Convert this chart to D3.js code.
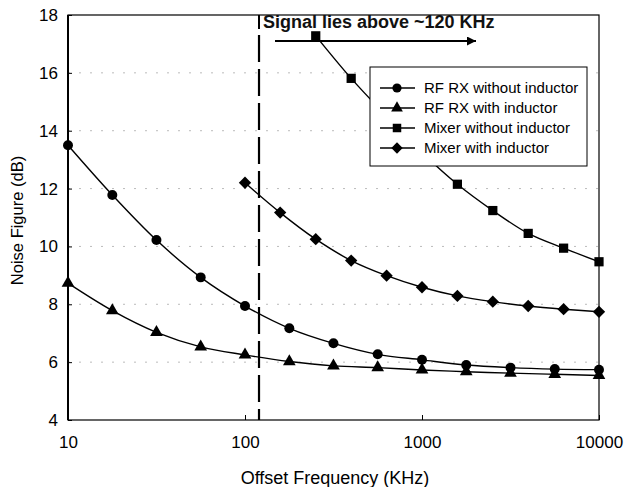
<!DOCTYPE html>
<html>
<head>
<meta charset="utf-8">
<script src="https://cdn.jsdelivr.net/npm/d3@7"></script>
<style>
  body { margin: 0; background: #fff; }
  svg { font-family: "Liberation Sans", Arial, sans-serif; }
</style>
</head>
<body>
<svg width="625" height="487"></svg>
<script>
// data
const rfFreq = [10, 17.8, 31.6, 56.2, 100, 178, 316, 562, 1000, 1778, 3162, 5623, 10000];
const rfNoInd = [13.5, 11.78, 10.22, 8.93, 7.94, 7.17, 6.65, 6.27, 6.08, 5.9, 5.81, 5.76, 5.74];
const rfInd = [8.73, 7.78, 7.03, 6.53, 6.25, 6.02, 5.87, 5.81, 5.73, 5.67, 5.62, 5.58, 5.54];
const mixNoIndFreq = [251, 398, 631, 1000, 1585, 2512, 3981, 6310, 10000];
const mixNoInd = [17.28, 15.81, 14.5, 13.25, 12.15, 11.24, 10.45, 9.94, 9.47];
const mixIndFreq = [100, 158, 251, 398, 631, 1000, 1585, 2512, 3981, 6310, 10000];
const mixInd = [12.2, 11.17, 10.25, 9.51, 8.99, 8.59, 8.29, 8.09, 7.94, 7.83, 7.74];
const xTicks = [10, 100, 1000, 10000];
const yTicks = [4, 6, 8, 10, 12, 14, 16, 18];
const signalEdge = 120;

// diamond drawn as a square turned 45 degrees
const squareDiamond = {
  draw(ctx, size) {
    const h = Math.sqrt(size) / Math.SQRT2;
    ctx.moveTo(0, -h); ctx.lineTo(h, 0); ctx.lineTo(0, h); ctx.lineTo(-h, 0); ctx.closePath();
  }
};

const series = [
  {name: "RF RX without inductor", x: rfFreq, y: rfNoInd, sym: d3.symbolCircle, size: 78},
  {name: "RF RX with inductor", x: rfFreq, y: rfInd, sym: d3.symbolTriangle, size: 70},
  {name: "Mixer without inductor", x: mixNoIndFreq, y: mixNoInd, sym: d3.symbolSquare, size: 85},
  {name: "Mixer with inductor", x: mixIndFreq, y: mixInd, sym: squareDiamond, size: 76}
];

const svg = d3.select("svg");
const margin = {left: 68, right: 26, top: 15, bottom: 67};
const width = 625 - margin.left - margin.right;
const height = 487 - margin.top - margin.bottom;

const x = d3.scaleLog().domain([10, 10000]).range([0, width]);
const y = d3.scaleLinear().domain([4, 18]).range([height, 0]);

const g = svg.append("g").attr("transform", `translate(${margin.left},${margin.top})`);

// faint dotted grid
g.append("g").selectAll("line")
  .data(yTicks.slice(1, -1)).enter().append("line")
  .attr("x1", 0).attr("x2", width)
  .attr("y1", d => y(d)).attr("y2", d => y(d))
  .attr("stroke", "#bbb").attr("stroke-width", 1)
  .attr("stroke-dasharray", "2,9");

// frame
g.append("rect").attr("width", width).attr("height", height)
  .attr("fill", "none").attr("stroke", "#000").attr("stroke-width", 1.2);
g.append("line").attr("x1", 0).attr("x2", 0).attr("y1", 0).attr("y2", height)
  .attr("stroke", "#000").attr("stroke-width", 2);

// axes
const xAxis = g.append("g").attr("transform", `translate(0,${height})`)
  .call(d3.axisBottom(x).tickValues(xTicks).tickFormat(d3.format("d")).tickSize(-5).tickPadding(14));
const yAxis = g.append("g")
  .call(d3.axisLeft(y).tickValues(yTicks).tickSize(-4).tickPadding(10));
[xAxis, yAxis].forEach(a => {
  a.select(".domain").remove();
  a.selectAll("text").attr("font-size", 17).attr("fill", "#000")
    .attr("font-family", "Liberation Sans, Arial, sans-serif");
  a.selectAll("line").attr("stroke", "#000");
});
xAxis.selectAll("text").attr("dy", "0.85em");

// axis titles
svg.append("text").attr("x", 335).attr("y", 484)
  .attr("text-anchor", "middle").attr("font-size", 18).text("Offset Frequency (KHz)");
svg.append("text").attr("transform", `translate(23,${margin.top + height / 2 + 3}) rotate(-90)`)
  .attr("text-anchor", "middle").attr("font-size", 16.5).text("Noise Figure (dB)");

// signal boundary
g.append("line").attr("x1", x(signalEdge)).attr("x2", x(signalEdge))
  .attr("y1", 0).attr("y2", 14).attr("stroke", "#000").attr("stroke-width", 2);
g.append("line").attr("x1", x(signalEdge)).attr("x2", x(signalEdge))
  .attr("y1", 20).attr("y2", height).attr("stroke", "#000").attr("stroke-width", 2.2)
  .attr("stroke-dasharray", "27,7");

// curves and markers
const line = d3.line().x(d => x(d[0])).y(d => y(d[1])).curve(d3.curveCatmullRom.alpha(0.5));
series.forEach(s => {
  const pts = s.x.map((f, i) => [f, s.y[i]]);
  g.append("path").datum(pts).attr("d", line)
    .attr("fill", "none").attr("stroke", "#000").attr("stroke-width", 1.4);
  g.append("g").selectAll("path").data(pts).enter().append("path")
    .attr("d", d3.symbol().type(s.sym).size(s.size))
    .attr("transform", d => `translate(${x(d[0])},${y(d[1])})`)
    .attr("fill", "#000");
});

// annotation
svg.append("text").attr("x", 263).attr("y", 28).attr("font-size", 18).attr("font-weight", "bold")
  .attr("fill", "#111").text("Signal lies above ~120 KHz");
svg.append("defs").append("marker").attr("id", "arrow")
  .attr("viewBox", "0 -5 10 10").attr("refX", 10).attr("refY", 0)
  .attr("markerWidth", 14).attr("markerHeight", 9).attr("markerUnits", "userSpaceOnUse")
  .attr("orient", "auto")
  .append("path").attr("d", "M0,-5L10,0L0,5Z").attr("fill", "#000");
svg.append("line").attr("x1", 275).attr("x2", 476).attr("y1", 41).attr("y2", 41)
  .attr("stroke", "#000").attr("stroke-width", 2.2).attr("marker-end", "url(#arrow)");

// legend
const lg = svg.append("g").attr("transform", "translate(370,67)");
lg.append("rect").attr("width", 217).attr("height", 99)
  .attr("fill", "#fff").attr("stroke", "#000").attr("stroke-width", 1);
series.forEach((s, i) => {
  const row = lg.append("g").attr("transform", `translate(0,${21 + i * 20})`);
  row.append("line").attr("x1", 10).attr("x2", 45).attr("stroke", "#000").attr("stroke-width", 1.4);
  row.append("path").attr("d", d3.symbol().type(s.sym).size(s.size * 0.85))
    .attr("transform", "translate(27,0)").attr("fill", "#000");
  row.append("text").attr("x", 54).attr("dy", "0.35em").attr("font-size", 15).text(s.name);
});
</script>
</body>
</html>
